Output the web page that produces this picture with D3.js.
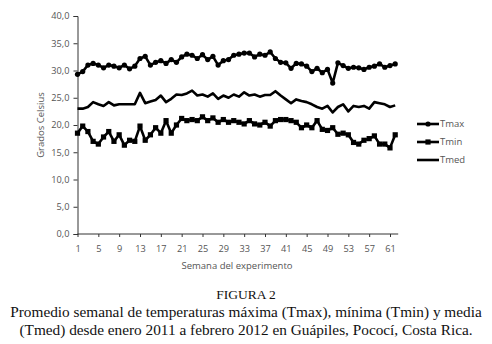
<!DOCTYPE html>
<html><head><meta charset="utf-8">
<script src="https://cdn.jsdelivr.net/npm/d3@7"></script>
<style>body{margin:0;background:#fff}svg{display:block}</style>
</head><body>
<script>
const weeks = d3.range(1, 63);
const tmax = [29.3,29.8,31.0,31.3,31.0,30.5,31.0,30.8,30.5,31.0,30.3,30.8,32.2,32.6,31.0,31.5,31.8,31.3,32.0,31.5,32.5,33.0,32.8,32.2,32.9,32.0,32.6,31.0,31.8,32.0,32.8,33.0,33.2,33.2,32.5,33.0,32.8,33.4,32.2,31.5,31.4,30.4,31.3,31.2,30.8,29.8,30.4,29.6,30.2,27.7,31.4,30.9,30.4,30.6,30.5,30.2,30.6,30.8,31.2,30.6,30.9,31.2];
const tmin = [18.5,19.8,18.8,17.0,16.5,17.8,18.8,17.0,18.2,16.3,17.2,17.0,19.8,17.2,18.2,19.5,18.5,20.8,18.5,20.0,21.2,20.8,21.0,20.8,21.5,20.8,21.3,20.5,21.0,20.5,20.8,20.5,20.2,20.8,20.2,20.0,20.5,19.8,20.8,21.0,21.0,20.8,20.5,19.5,20.0,19.5,20.8,19.2,19.0,19.5,18.3,18.5,18.2,16.8,16.5,17.2,17.5,18.0,16.5,16.5,15.8,18.2];
const tmed = [23.0,23.0,23.3,24.2,23.8,23.5,24.2,23.6,23.8,23.8,23.8,23.8,25.9,24.0,24.3,24.6,25.4,24.2,24.8,25.6,25.5,25.8,26.3,25.4,25.6,25.2,25.8,24.8,25.4,25.0,25.6,25.2,26.0,25.4,25.6,25.2,25.5,25.5,26.2,25.4,24.7,24.0,24.7,24.4,24.2,23.8,23.3,23.0,23.5,22.3,23.3,23.8,22.5,23.5,23.3,23.5,23.0,24.2,24.0,23.8,23.3,23.6];
const yTicks = [0,5,10,15,20,25,30,35,40];
const xTickLabels = [1,5,9,13,17,21,25,29,33,37,41,45,49,53,57,61];
const seriesNames = ["Tmax","Tmin","Tmed"];
const captionTitle = "FIGURA 2";
const captionLines = ["Promedio semanal de temperaturas máxima (Tmax), mínima (Tmin) y media","(Tmed) desde enero 2011 a febrero 2012 en Guápiles, Pococí, Costa Rica."];

const W = 492, H = 344;
const svg = d3.select("body").append("svg").attr("width", W).attr("height", H);
const x = d3.scaleLinear().domain([1, 61]).range([77.5, 390]);
const y = d3.scaleLinear().domain([0, 40]).range([234, 16]);
const axisColor = "#333", textColor = "#555";
const font = "'Open Sans', 'DejaVu Sans', sans-serif";

// y axis
const ya = svg.append("g").attr("transform", `translate(${x(1)},0)`)
  .call(d3.axisLeft(y).tickValues(yTicks).tickSize(4).tickPadding(4).tickFormat(d => d3.format(".1f")(d).replace(".", ",")));
ya.select(".domain").attr("stroke", axisColor).attr("stroke-width", 1);
ya.selectAll("line").attr("stroke", axisColor);
ya.selectAll("text").attr("fill", textColor).attr("font-family", font).attr("font-size", 9.2);

// x axis
const xa = svg.append("g").attr("transform", `translate(0,${y(0)})`)
  .call(d3.axisBottom(x).tickValues(xTickLabels).tickSize(3).tickPadding(8).tickFormat(d3.format("d")));
xa.select(".domain").attr("d", `M${x(1)},0H${x(62) + 3}`).attr("stroke", axisColor);
xa.selectAll("line").attr("stroke", axisColor);
xa.selectAll("text").attr("fill", textColor).attr("font-family", font).attr("font-size", 9.2);

svg.append("text").attr("x", 237).attr("y", 269).attr("text-anchor", "middle")
  .attr("fill", textColor).attr("font-family", font).attr("font-size", 9.5).text("Semana del experimento");
svg.append("text").attr("transform", `translate(44,125) rotate(-90)`).attr("text-anchor", "middle")
  .attr("fill", textColor).attr("font-family", font).attr("font-size", 9.5).text("Grados Celsius");

const line = d3.line().x((d, i) => x(weeks[i])).y(d => y(d));
const data = [tmax, tmin, tmed];
data.forEach((s, k) => {
  svg.append("path").datum(s).attr("d", line).attr("fill", "none")
    .attr("stroke", "#000").attr("stroke-width", 2.6).attr("stroke-linejoin", "round");
});
svg.append("g").selectAll("circle").data(tmax).join("circle")
  .attr("cx", (d, i) => x(weeks[i])).attr("cy", d => y(d)).attr("r", 2.6).attr("fill", "#000");
svg.append("g").selectAll("rect").data(tmin).join("rect")
  .attr("x", (d, i) => x(weeks[i]) - 2.6).attr("y", d => y(d) - 2.6).attr("width", 5.2).attr("height", 5.2).attr("fill", "#000");

// legend
const legY = [124, 142, 160];
seriesNames.forEach((n, k) => {
  const g = svg.append("g");
  g.append("line").attr("x1", 417).attr("x2", 439).attr("y1", legY[k]).attr("y2", legY[k]).attr("stroke", "#000").attr("stroke-width", 2.6);
  if (k === 0) g.append("circle").attr("cx", 428).attr("cy", legY[k]).attr("r", 2.6);
  if (k === 1) g.append("rect").attr("x", 425.4).attr("y", legY[k] - 2.6).attr("width", 5.2).attr("height", 5.2);
  g.append("text").attr("x", 440).attr("y", legY[k] + 3.2).attr("fill", textColor).attr("font-family", font).attr("font-size", 9.5).text(n);
});

// caption
const serif = "'Liberation Serif', 'DejaVu Serif', serif";
svg.append("text").attr("x", 246).attr("y", 299).attr("text-anchor", "middle").attr("fill", "#111")
  .attr("font-family", serif).attr("font-size", 13.5).text(captionTitle);
captionLines.forEach((t, i) => {
  svg.append("text").attr("x", 246).attr("y", 317 + i * 17.5).attr("text-anchor", "middle").attr("fill", "#111")
    .attr("font-family", serif).attr("font-size", 15.3).text(t);
});
</script>
</body></html>
